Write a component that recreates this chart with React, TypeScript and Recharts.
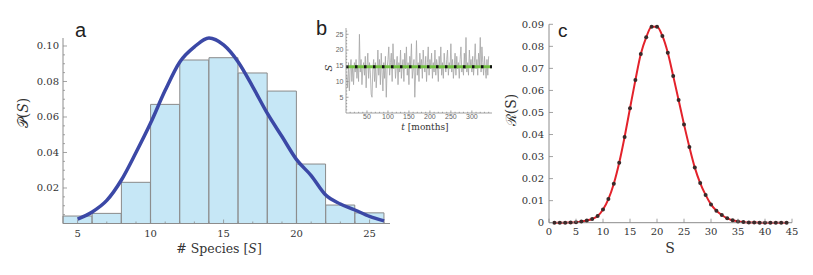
import React from "react";
import { ComposedChart, LineChart, Line, Bar, XAxis, YAxis, ReferenceLine } from "recharts";

// panel a: histogram of species per month + fitted curve
const binMid = [5, 7, 9, 11, 13, 15, 17, 19, 21, 23, 25];
const binFreq = [0.0042, 0.0057, 0.0232, 0.0671, 0.0921, 0.0934, 0.0848, 0.0746, 0.0335, 0.0104, 0.006];
const fitS = [5, 6, 7, 8, 9, 10, 11, 12, 13, 14, 15, 16, 17, 18, 19, 20, 21, 22, 23, 24, 25, 26];
const fitP = [
  0.0025, 0.0065, 0.013, 0.0245, 0.04, 0.0566, 0.075, 0.091, 0.0995, 0.1045, 0.1006,
  0.091, 0.077, 0.062, 0.049, 0.036, 0.027, 0.016, 0.011, 0.0076, 0.004, 0.0015,
];
const aTicksX = [5, 10, 15, 20, 25];
const aTicksY = [0.02, 0.04, 0.06, 0.08, 0.1];

// panel b: species count over time (every 2nd month), and its mean
const seriesS = [
  12, 8, 16, 7, 14, 17, 10, 15, 9, 16,
  13, 17, 11, 15, 10, 25, 13, 17, 9, 14,
  16, 12, 18, 8, 15, 19, 11, 16, 13, 6,
  5, 14, 17, 10, 16, 8, 13, 20, 12, 17,
  9, 19, 13, 7, 16, 11, 18, 5, 14, 17,
  21, 12, 16, 19, 10, 22, 14, 17, 11, 15,
  18, 9, 16, 13, 20, 11, 15, 17, 10, 19,
  14, 21, 12, 16, 9, 18, 15, 22, 11, 14,
  17, 5, 13, 23, 12, 16, 10, 19, 14, 17,
  11, 20, 15, 13, 18, 10, 16, 21, 12, 17,
  14, 19, 11, 16, 13, 20, 12, 17, 15, 10,
  18, 14, 21, 12, 16, 11, 19, 15, 13, 17,
  20, 12, 16, 14, 22, 13, 17, 11, 15, 19,
  12, 18, 14, 16, 11, 17, 21, 13, 15, 12,
  19, 14, 24, 13, 16, 12, 20, 15, 17, 13,
  18, 12, 16, 22, 14, 17, 12, 19, 15, 24,
  13, 21, 16, 12, 18, 14, 11, 17, 12, 18,
];
const meanS = 14.7;
const bTicksX = [50, 100, 150, 200, 250, 300];
const bTicksY = [5, 10, 15, 20, 25];

// panel c: model distribution
const cS = [
  1, 2, 3, 4, 5, 6, 7, 8, 9, 10, 11, 12, 13, 14, 15, 16, 17, 18, 19, 20, 21, 22,
  23, 24, 25, 26, 27, 28, 29, 30, 31, 32, 33, 34, 35, 36, 37, 38, 39, 40, 41, 42, 43, 44,
];
const cP = [
  0, 0, 0, 0.0001, 0.0002, 0.0005, 0.001, 0.0017, 0.003, 0.006, 0.0107, 0.0177, 0.0272,
  0.0389, 0.0519, 0.0647, 0.0765, 0.0841, 0.0889, 0.0889, 0.0847, 0.0771, 0.0666, 0.0557,
  0.0446, 0.0343, 0.025, 0.018, 0.0126, 0.0083, 0.0054, 0.0035, 0.002, 0.0011, 0.0006,
  0.0003, 0.0001, 0.0001, 0, 0, 0, 0, 0, 0,
];
const cTicksX = [0, 5, 10, 15, 20, 25, 30, 35, 40, 45];
const cTicksY = [0, 0.01, 0.02, 0.03, 0.04, 0.05, 0.06, 0.07, 0.08, 0.09];

const binData = binMid.map((m, i) => ({ mid: m, freq: binFreq[i] }));
const fitData = fitS.map((s, i) => ({ s, p: fitP[i] }));
const timeData = seriesS.map((v, i) => ({ t: (i + 1) * 2, v }));
const cData = cS.map((s, i) => ({ s, p: cP[i] }));

const steps = (from: number, to: number, step: number) => {
  const out: number[] = [];
  for (let v = from; v <= to + 1e-9; v += step) out.push(Math.round(v * 10000) / 10000);
  return out;
};

const SERIF = "DejaVu Serif, Liberation Serif, Times New Roman, serif";
const SANS = "Liberation Sans, Arial, sans-serif";
const AXIS = "#8c8c8c";

type TickStyle = {
  majors: number[];
  fmt: (v: number) => string;
  major: number;
  minor: number;
  font: string;
  size: number;
  color: string;
  gap: number;
};

const isMajor = (list: number[], v: number) => list.some((m) => Math.abs(m - v) < 1e-6);

function leftTick(st: TickStyle) {
  return (props: any) => {
    const { x, y, payload } = props;
    const v = payload.value as number;
    const mj = isMajor(st.majors, v);
    return (
      <g>
        <line x1={x} x2={x + (mj ? st.major : st.minor)} y1={y} y2={y} stroke={AXIS} strokeWidth={0.8} />
        {mj && (
          <text x={x - st.gap} y={y} dy="0.35em" textAnchor="end" style={{ fontFamily: st.font, fontSize: st.size }} fill={st.color}>
            {st.fmt(v)}
          </text>
        )}
      </g>
    );
  };
}

function bottomTick(st: TickStyle) {
  return (props: any) => {
    const { x, y, payload } = props;
    const v = payload.value as number;
    const mj = isMajor(st.majors, v);
    return (
      <g>
        <line x1={x} x2={x} y1={y} y2={y - (mj ? st.major : st.minor)} stroke={AXIS} strokeWidth={0.8} />
        {mj && (
          <text x={x} y={y + st.gap} dy="0.71em" textAnchor="middle" style={{ fontFamily: st.font, fontSize: st.size }} fill={st.color}>
            {st.fmt(v)}
          </text>
        )}
      </g>
    );
  };
}

function PanelA() {
  return (
    <ComposedChart width={400} height={275} data={binData} barCategoryGap={0} barGap={0}
      margin={{ top: 38, right: 10, bottom: 31.5, left: 3 }}>
      <XAxis xAxisId="fit" type="number" dataKey="s" domain={[4, 26.4]} height={20}
        ticks={steps(5, 26, 1)} interval={0} tickSize={0} tickMargin={0} tickLine={false}
        axisLine={{ stroke: AXIS }}
        tick={bottomTick({ majors: aTicksX, fmt: (v) => String(v), major: 4, minor: 2, font: SERIF, size: 10, color: "#333", gap: 6 })} />
      <XAxis xAxisId="bin" type="number" dataKey="mid" domain={[4, 26.4]} height={0} hide />
      <YAxis type="number" domain={[0, 0.1045]} width={60} ticks={steps(0.005, 0.1, 0.005)} interval={0}
        tickSize={0} tickMargin={0} tickLine={false} axisLine={{ stroke: AXIS }}
        tick={leftTick({ majors: aTicksY, fmt: (v) => v.toFixed(2), major: 4, minor: 2, font: SERIF, size: 10, color: "#333", gap: 4 })} />
      <Bar xAxisId="bin" dataKey="freq" fill="#c6e7f6" stroke="#8a8a8a" strokeWidth={1} isAnimationActive={false} />
      <Line xAxisId="fit" data={fitData} dataKey="p" type="monotone" stroke="#3b48a6" strokeWidth={3.5}
        dot={false} isAnimationActive={false} />
    </ComposedChart>
  );
}

function PanelB() {
  return (
    <LineChart width={200} height={140} data={timeData} margin={{ top: 28, right: 8, bottom: 7, left: 16 }}>
      <XAxis type="number" dataKey="t" domain={[0, 348]} height={20} ticks={steps(10, 340, 10)} interval={0}
        tickSize={0} tickMargin={0} tickLine={false} axisLine={{ stroke: AXIS, strokeWidth: 0.8 }}
        tick={bottomTick({ majors: bTicksX, fmt: (v) => String(v), major: 2.5, minor: 1.2, font: SANS, size: 7, color: "#666", gap: 1.5 })} />
      <YAxis type="number" domain={[0, 27]} width={30} ticks={steps(1, 26, 1)} interval={0}
        tickSize={0} tickMargin={0} tickLine={false} axisLine={{ stroke: AXIS, strokeWidth: 0.8 }}
        tick={leftTick({ majors: bTicksY, fmt: (v) => String(v), major: 2.5, minor: 1.2, font: SANS, size: 7, color: "#666", gap: 2.5 })} />
      <Line dataKey="v" type="linear" stroke="#a4a4a4" strokeWidth={0.8} dot={false} isAnimationActive={false} />
      <ReferenceLine y={meanS} stroke="#74c043" strokeWidth={3} />
      <ReferenceLine y={meanS} stroke="#111" strokeWidth={3} strokeDasharray="2.5 6.5" />
    </LineChart>
  );
}

function PanelC() {
  return (
    <LineChart width={313} height={275} data={cData} margin={{ top: 24.3, right: 21, bottom: 32.3, left: 9 }}>
      <XAxis type="number" dataKey="s" domain={[0, 45]} height={20} ticks={cTicksX} interval={0}
        tickSize={0} tickMargin={0} tickLine={false} axisLine={{ stroke: AXIS }}
        tick={bottomTick({ majors: cTicksX, fmt: (v) => String(v), major: 4, minor: 2, font: SERIF, size: 10, color: "#333", gap: 5 })} />
      <YAxis type="number" domain={[0, 0.09]} width={40} ticks={cTicksY} interval={0}
        tickSize={0} tickMargin={0} tickLine={false} axisLine={{ stroke: AXIS }}
        tick={leftTick({ majors: cTicksY, fmt: (v) => (v === 0 ? "0" : v.toFixed(2)), major: 4, minor: 2, font: SERIF, size: 10, color: "#333", gap: 5 })} />
      <Line dataKey="p" type="monotone" stroke="#e3222b" strokeWidth={2}
        dot={{ r: 2, fill: "#3a2a2a", stroke: "none" }} isAnimationActive={false} />
    </LineChart>
  );
}

const serif = (size: number, extra: React.CSSProperties = {}) => ({ fontFamily: SERIF, fontSize: size, ...extra });

export default function App() {
  return (
    <div style={{ position: "absolute", left: 0, top: 0, width: 813, height: 275, background: "#fff", overflow: "hidden" }}>
      <div style={{ position: "absolute", left: 0, top: 0 }}><PanelA /></div>
      <div style={{ position: "absolute", left: 500, top: 0 }}><PanelC /></div>
      <div style={{ position: "absolute", left: 300, top: 0 }}><PanelB /></div>
      <svg width={813} height={275} style={{ position: "absolute", left: 0, top: 0, pointerEvents: "none" }}>
        <text x={75} y={37} style={{ fontFamily: SANS, fontSize: 20 }} fill="#222">a</text>
        <text x={316} y={35} style={{ fontFamily: SANS, fontSize: 20 }} fill="#222">b</text>
        <text x={558} y={37} style={{ fontFamily: SANS, fontSize: 19 }} fill="#222">c</text>

        <text transform="translate(28,113) rotate(-90)" textAnchor="middle" style={serif(14)} fill="#333">
          𝒫(<tspan fontStyle="italic">S</tspan>)
        </text>
        <text x={219} y={253} textAnchor="middle" style={serif(12.5)} fill="#333">
          # Species [<tspan fontStyle="italic">S</tspan>]
        </text>

        <text transform="translate(332,68) rotate(-90)" textAnchor="middle" style={serif(10, { fontStyle: "italic" })} fill="#333">S</text>
        <text x={425} y={130} textAnchor="middle" style={serif(9)} fill="#333">
          <tspan fontStyle="italic">t</tspan> [months]
        </text>

        <text transform="translate(516,110) rotate(-90)" textAnchor="middle" style={serif(14)} fill="#333">ℛ(S)</text>
        <text x={670} y={253} textAnchor="middle" style={serif(14)} fill="#333">S</text>
      </svg>
    </div>
  );
}
